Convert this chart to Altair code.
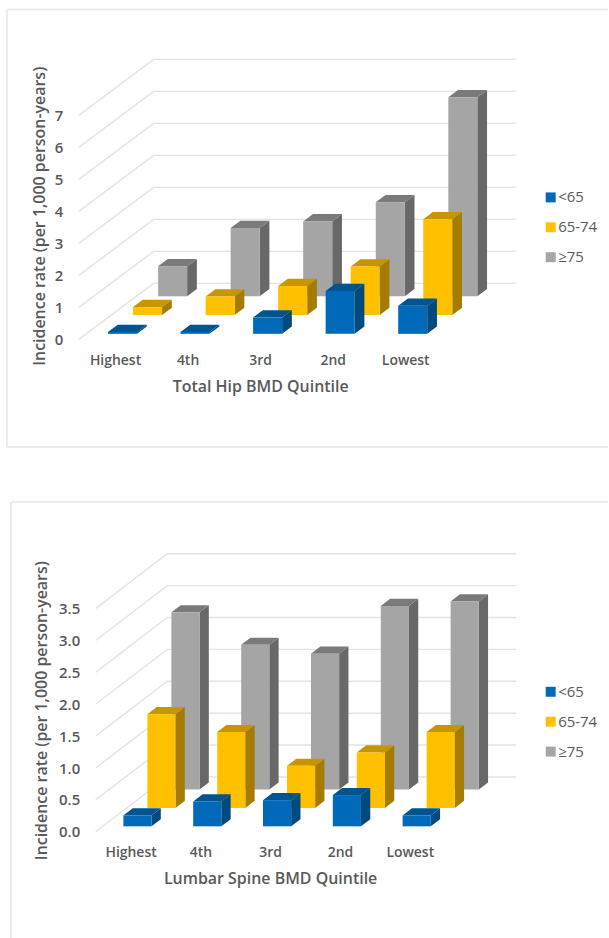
import altair as alt
import pandas as pd

QUINTILES = ["Highest", "4th", "3rd", "2nd", "Lowest"]
AGE_GROUPS = ["<65", "65-74", "≥75"]

HIP_UNDER_65 = [0.06, 0.06, 0.51, 1.34, 0.88]
HIP_65_74 = [0.25, 0.58, 0.91, 1.52, 2.99]
HIP_OVER_75 = [0.94, 2.13, 2.34, 2.94, 6.22]

SPINE_UNDER_65 = [0.17, 0.39, 0.41, 0.49, 0.17]
SPINE_65_74 = [1.47, 1.19, 0.66, 0.87, 1.19]
SPINE_OVER_75 = [2.78, 2.27, 2.13, 2.88, 2.95]

HIP_TICKS = [0, 1, 2, 3, 4, 5, 6, 7]
SPINE_TICKS = [0.0, 0.5, 1.0, 1.5, 2.0, 2.5, 3.0, 3.5]

FACE_COLORS = {
    "<65": "#0069BA", "<65 top": "#00548F", "<65 side": "#004A80",
    "65-74": "#FFC000", "65-74 top": "#C79500", "65-74 side": "#A67C00",
    "≥75": "#A5A5A5", "≥75 top": "#7A7A7A", "≥75 side": "#686868",
}
TEXT = "#595959"
FONT = "Open Sans"
FRAME = "#E6E6E6"
GRID = "#E4E4E4"

# Row depths of the three age groups and the depth of one bar, as fractions of the floor.
ROW_DEPTH = {"<65": 0.10, "65-74": 0.435, "≥75": 0.77}
BAR_DEPTH = 0.13


def bar_faces(series, shear_x, shear_y, inset, bar_width):
    """Project each bar's front, side and top faces into sheared axis units."""
    rows = []
    for group in reversed(AGE_GROUPS):
        z = ROW_DEPTH[group]
        for i, value in enumerate(series[group]):
            x0 = i + inset + z * shear_x
            x1 = x0 + bar_width
            dx = BAR_DEPTH * shear_x
            dy = BAR_DEPTH * shear_y
            base = z * shear_y
            top = base + value
            faces = [
                (group + " side", [(x1, top, base), (x1 + dx, top + dy, base + dy)]),
                (group + " top", [(x0, top, top), (x0 + dx, top + dy, top),
                                  (x1, top + dy, top), (x1 + dx, top + dy, top + dy)]),
                (group, [(x0, top, base), (x1, top, base)]),
            ]
            for face, points in faces:
                for px, upper, lower in points:
                    rows.append({"x": px, "upper": upper, "lower": lower,
                                 "face": face, "poly": f"{group}-{i}-{face}"})
    return pd.DataFrame(rows)


def grid_lines(ticks, shear_x, shear_y):
    """Floor-to-wall gridlines: a diagonal from the front edge, then along the back wall."""
    rows = []
    for t in ticks:
        for px, py in [(0, t), (shear_x, t + shear_y), (shear_x + 5, t + shear_y)]:
            rows.append({"x": px, "y": t, "py": py})
    return pd.DataFrame(rows)


def panel(series, ticks, shear_x, shear_y, inset, bar_width, x_min, y_height, y_format,
          title, title_x, title_y2, axis_offset, frame, legend_y):
    x_scale = alt.Scale(domain=[x_min, 5 + shear_x], nice=False, zero=False)
    y_scale = alt.Scale(domain=[0, ticks[-1] + shear_y], nice=False, zero=False)
    x_axis = alt.Axis(
        values=[0.5, 1.5, 2.5, 3.5, 4.5],
        labelExpr="['Highest','4th','3rd','2nd','Lowest'][floor(datum.value)]",
        domain=False, ticks=False, grid=False, labelPadding=14, labelFont=FONT,
        labelFontSize=14, labelFontWeight=600, labelColor=TEXT, title=title,
        titleFont=FONT, titleFontSize=16, titleFontWeight=600, titleColor=TEXT,
        titleX=title_x, titleY=39, labelAngle=0,
    )
    y_axis = alt.Axis(
        values=ticks, format=y_format, domain=False, ticks=False, grid=False,
        offset=axis_offset, labelPadding=16, labelFont=FONT, labelFontSize=15,
        labelFontWeight=600, labelColor=TEXT,
        title="Incidence rate (per 1,000 person-years)", titleFont=FONT,
        titleFontSize=16, titleFontWeight=600, titleColor=TEXT, titleX=title_y2,
        titleY=157,
    )

    gridlines = alt.Chart(grid_lines(ticks, shear_x, shear_y)).mark_line(
        color=GRID, strokeWidth=1.4
    ).encode(
        x=alt.X("x:Q", scale=x_scale, axis=x_axis),
        y=alt.Y("py:Q", scale=y_scale, axis=y_axis),
        detail="y:N",
        order="x:Q",
    )

    faces = alt.Chart(bar_faces(series, shear_x, shear_y, inset, bar_width)).mark_area(
        opacity=1, interpolate="linear"
    ).encode(
        x=alt.X("x:Q", scale=x_scale, axis=x_axis),
        y=alt.Y("upper:Q", scale=y_scale, axis=y_axis),
        y2="lower:Q",
        detail="poly:N",
        color=alt.Color(
            "face:N",
            scale=alt.Scale(domain=list(FACE_COLORS), range=list(FACE_COLORS.values())),
            legend=alt.Legend(
                values=AGE_GROUPS, title=None, orient="none", legendX=466,
                legendY=legend_y, symbolType="square", symbolSize=100,
                symbolStrokeWidth=0, labelFont=FONT, labelFontSize=15, labelColor=TEXT,
                rowPadding=14, labelOffset=0, padding=0,
            ),
        ),
    )

    rules = [
        alt.Chart(alt.Data(values=[{}])).mark_rule(color=FRAME, strokeWidth=1.5).encode(
            x=alt.value(a), x2=alt.value(b), y=alt.value(c), y2=alt.value(d)
        )
        for a, b, c, d in frame
    ]
    return alt.layer(*rules, gridlines, faces).properties(width=439, height=y_height)


hip = panel(
    {"<65": HIP_UNDER_65, "65-74": HIP_65_74, "≥75": HIP_OVER_75},
    HIP_TICKS, 1.031, 1.75, 0.30, 0.40, 0, 281, "d",
    "Total Hip BMD Quintile", 182, -31, 0,
    [(-72, 531, -50, -50), (-72, 531, 389, 389), (-72, -72, -50, 389)], 131,
)
spine = panel(
    {"<65": SPINE_UNDER_65, "65-74": SPINE_65_74, "≥75": SPINE_OVER_75},
    SPINE_TICKS, 1.026, 0.86, 0.295, 0.403, -0.242, 279, ".1f",
    "Lumbar Spine BMD Quintile", 192, -46, -17,
    [(-68, 531, -52, -52), (-68, -68, -52, 386)], 131,
)

chart = alt.vconcat(hip, spine, spacing=53).properties(
    padding={"left": 6, "top": 7, "right": 0, "bottom": 0}
).configure_view(stroke=None).resolve_scale(color="independent")

chart.save("out.html", embed_options={"renderer": "svg", "actions": False})
